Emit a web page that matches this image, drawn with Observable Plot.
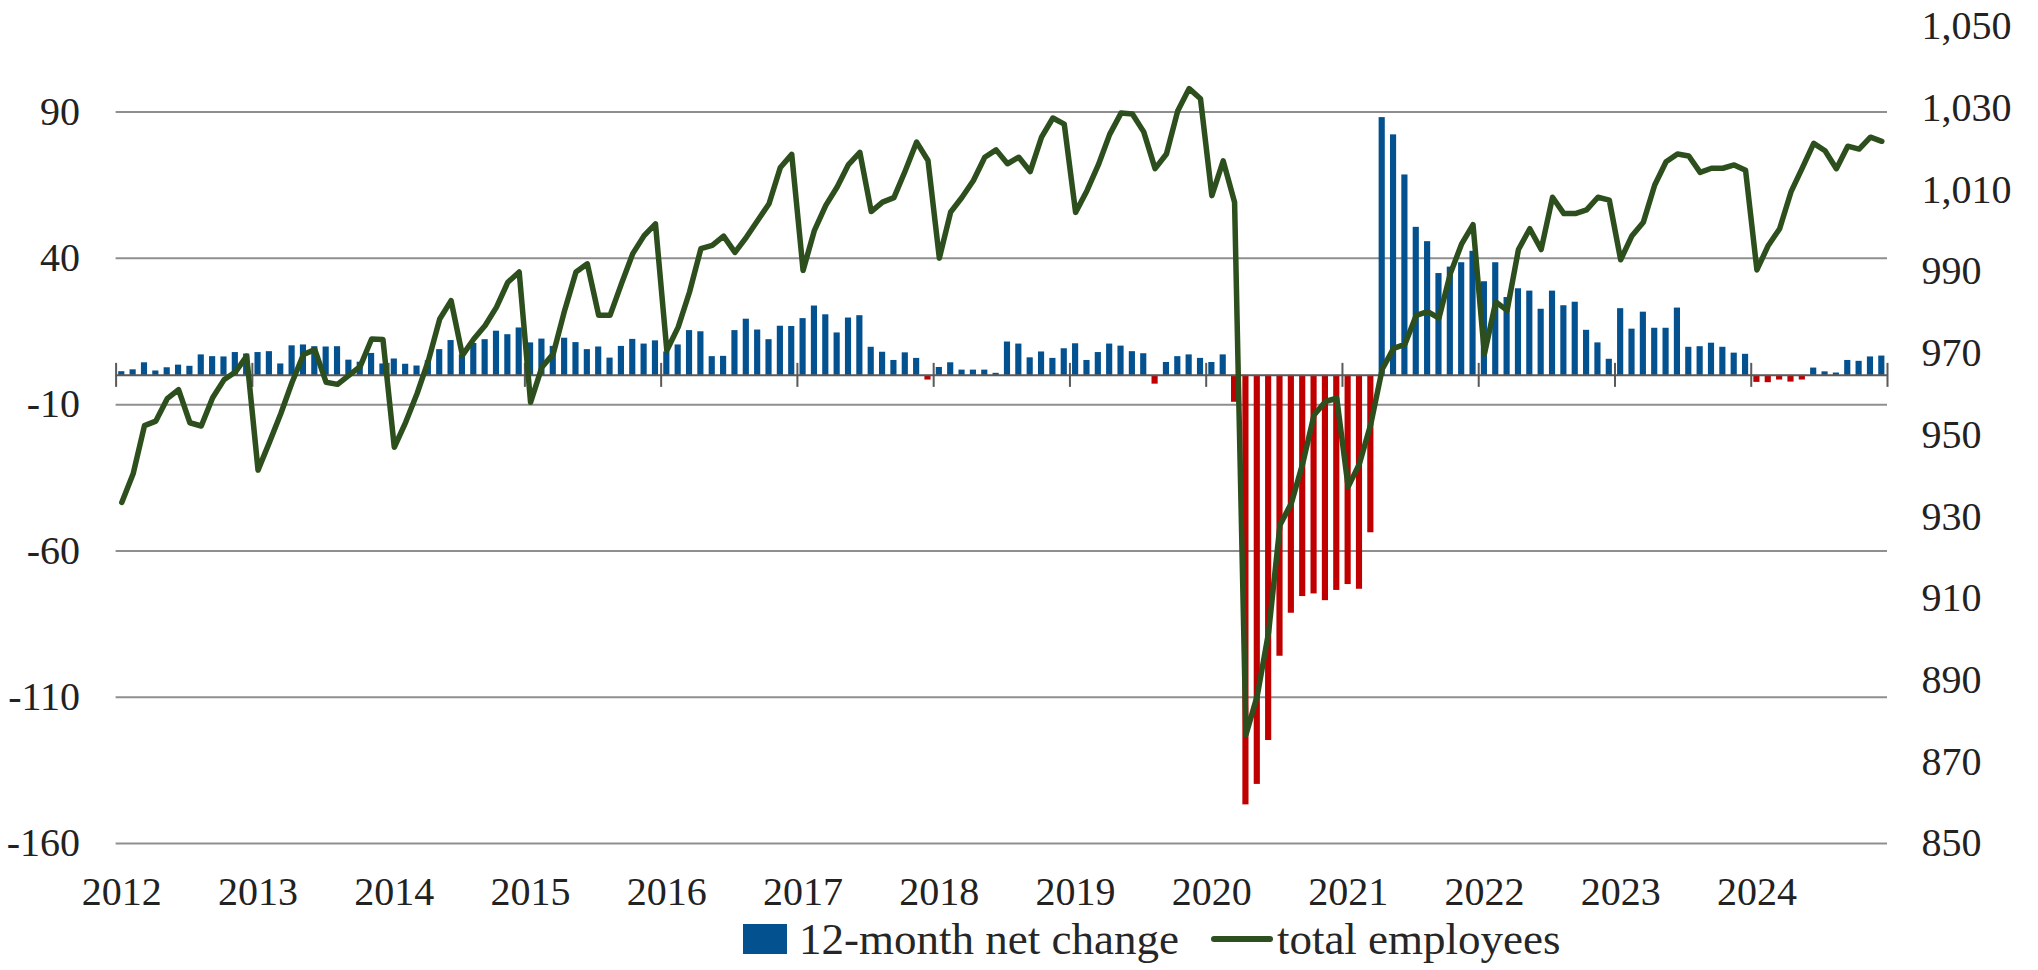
<!DOCTYPE html>
<html><head><meta charset="utf-8">
<script src="https://cdn.jsdelivr.net/npm/d3@7"></script>
<script src="https://cdn.jsdelivr.net/npm/@observablehq/plot@0.6"></script>
<style>
body{margin:0;background:#fff;}
#wrap{position:relative;width:2038px;height:970px;font-family:"Liberation Serif",serif;background:#fff;overflow:hidden;}
#legend{position:absolute;left:743px;top:916px;height:46px;line-height:46px;display:flex;align-items:center;font-size:45px;color:#262626;white-space:nowrap;}
#legend .sq{display:inline-block;width:44px;height:30px;background:#03518f;margin-right:12px;}
#legend .ln{display:inline-block;width:62px;height:6px;background:#2e5020;border-radius:3px;margin-left:32px;margin-right:4px;}
</style></head><body>
<div id="wrap"><div id="chart"></div>
<div id="legend"><span class="sq"></span><span>12-month net change</span><span class="ln"></span><span>total employees</span></div>
</div>
<script>
const years = [2012,2013,2014,2015,2016,2017,2018,2019,2020,2021,2022,2023,2024];
const netChange = [
  1.25, 1.9, 4.3, 1.5, 2.6, 3.5, 3.1, 7.0, 6.4, 6.3, 7.8, 7.3,
  7.8, 8.1, 3.9, 10.1, 10.4, 9.8, 9.7, 9.8, 5.2, 4.5, 7.5, 3.9,
  5.6, 3.8, 3.2, 5.0, 8.8, 11.9, 7.0, 10.9, 12.2, 15.1, 13.9, 16.2,
  11.1, 12.4, 9.9, 12.7, 11.2, 8.8, 9.7, 5.9, 9.9, 12.3, 10.7, 11.8,
  8.0, 10.4, 15.3, 14.9, 6.4, 6.5, 15.3, 19.2, 15.5, 12.2, 16.8, 16.7,
  19.4, 23.7, 20.7, 14.5, 19.6, 20.4, 9.6, 7.9, 5.1, 7.7, 5.8, -1.6,
  2.7, 4.3, 1.8, 1.8, 1.8, 0.7, 11.4, 10.7, 6.0, 8.0, 5.8, 9.1,
  10.8, 5.1, 7.8, 10.7, 10.0, 8.1, 7.4, -3.0, 4.4, 6.4, 7.0, 5.8,
  4.4, 7.0, -9.2, -146.8, -139.8, -124.8, -96.0, -81.3, -75.6, -74.7, -77.0, -73.5,
  -71.5, -73.1, -53.8, 88.1, 82.2, 68.5, 50.6, 45.7, 34.8, 37.0, 38.5, 42.4,
  32.0, 38.5, 26.6, 29.6, 28.8, 22.6, 28.8, 23.8, 25.0, 15.4, 11.1, 5.5,
  22.8, 15.8, 21.6, 16.1, 16.1, 23.0, 9.6, 9.8, 11.0, 9.6, 7.6, 7.2,
  -2.4, -2.5, -1.6, -2.3, -1.6, 2.5, 1.2, 0.8, 5.1, 4.8, 6.3, 6.6
];
const totalEmployees = [
  933.5, 940.5, 952.3, 953.4, 958.9, 961.1, 953.0, 952.2, 959.1, 963.5, 965.4, 969.3,
  941.4, 948.2, 955.2, 962.9, 969.7, 970.9, 962.9, 962.4, 964.6, 966.8, 973.5, 973.4,
  947.0, 953.1, 960.1, 968.2, 978.4, 982.9, 969.5, 973.5, 976.8, 981.3, 987.4, 989.9,
  958.0, 966.6, 969.9, 980.5, 989.9, 991.9, 979.3, 979.3, 987.0, 994.4, 998.8, 1001.7,
  970.7, 976.4, 985.0, 995.6, 996.4, 998.7, 994.7, 998.4, 1002.5, 1006.6, 1015.5, 1018.7,
  990.3, 1000.1, 1006.2, 1010.7, 1016.2, 1019.2, 1004.7, 1007.0, 1008.1, 1014.7, 1021.7, 1017.2,
  993.3, 1004.6, 1008.2, 1012.3, 1018.0, 1019.8, 1016.4, 1018.0, 1014.5, 1022.9, 1027.6, 1026.1,
  1004.5, 1009.8, 1016.1, 1023.6, 1028.8, 1028.6, 1024.2, 1015.2, 1018.8, 1029.4, 1034.8, 1032.3,
  1008.6, 1017.1, 1007.0, 876.6, 886.2, 901.8, 928.0, 933.3, 943.0, 954.9, 958.2, 959.0,
  937.3, 943.0, 952.7, 966.1, 971.2, 972.2, 979.3, 980.2, 978.6, 989.5, 996.8, 1001.5,
  969.8, 982.6, 980.5, 995.4, 1000.5, 995.4, 1008.2, 1004.2, 1004.2, 1005.1, 1008.2, 1007.5,
  992.9, 998.8, 1002.1, 1011.2, 1016.9, 1018.8, 1018.3, 1014.3, 1015.3, 1015.3, 1016.1, 1014.8,
  990.4, 996.4, 1000.5, 1009.5, 1015.4, 1021.4, 1019.6, 1015.2, 1020.7, 1020.0, 1022.9, 1021.9
];
const leftTicks = [90, 40, -10, -60, -110, -160];
const rightTicks = [850, 870, 890, 910, 930, 950, 970, 990, 1010, 1030, 1050];

const W = 2038, H = 912;
const plotTop = 26, plotBottom = 843;
const leftDomain = [-160, 119.24];
const rightDomain = [850, 1050];
const k = (leftDomain[1] - leftDomain[0]) / (rightDomain[1] - rightDomain[0]);
const toLeft = w => leftDomain[0] + (w - rightDomain[0]) * k;
const fromLeft = v => rightDomain[0] + (v - leftDomain[0]) / k;
const pxPerUnit = (plotBottom - plotTop) / (leftDomain[1] - leftDomain[0]);
const tickHalf = 12 / pxPerUnit;

const rows = netChange.map((v, i) => ({i, v, wl: toLeft(totalEmployees[i])}));
const yearStarts = d3.range(0, years.length * 12 + 1, 12);
const yearLabelPos = years.map((y, j) => 12 * j + 0.5);

const chart = Plot.plot({
  width: W, height: H,
  marginLeft: 115.6, marginRight: 151, marginTop: plotTop, marginBottom: H - plotBottom,
  x: {domain: [0, years.length * 12], label: null},
  y: {domain: leftDomain, label: null},
  style: {fontFamily: "'Liberation Serif', serif", fontSize: "40px", color: "#222", background: "#fff", overflow: "visible"},
  marks: [
    Plot.ruleY(leftTicks, {stroke: "#8f8f8f", strokeWidth: 2}),
    Plot.rect(rows, {x1: "i", x2: d => d.i + 1, y1: 0, y2: "v", fill: d => d.v < 0 ? "#c00000" : "#03518f", insetLeft: 2.6, insetRight: 2.6}),
    Plot.ruleY([0], {stroke: "#595959", strokeWidth: 2}),
    Plot.ruleX(yearStarts, {x: d => d, y1: -tickHalf, y2: tickHalf, stroke: "#595959", strokeWidth: 2}),
    Plot.line(rows, {x: d => d.i + 0.5, y: "wl", stroke: "#2d4f1e", strokeWidth: 5.5, strokeLinejoin: "round", strokeLinecap: "round"}),
    Plot.axisY(leftTicks, {anchor: "left", label: null, tickSize: 0, tickPadding: 36, tickFormat: d => String(d)}),
    Plot.axisY(rightTicks.map(toLeft), {anchor: "right", label: null, tickSize: 0, tickPadding: 34, tickFormat: d => d3.format(",")(Math.round(fromLeft(d)))}),
    Plot.axisX(yearLabelPos, {anchor: "bottom", label: null, tickSize: 0, tickPadding: 33, tickFormat: d => String(years[Math.floor(d / 12)])})
  ]
});
document.getElementById("chart").appendChild(chart);
</script>
</body></html>
